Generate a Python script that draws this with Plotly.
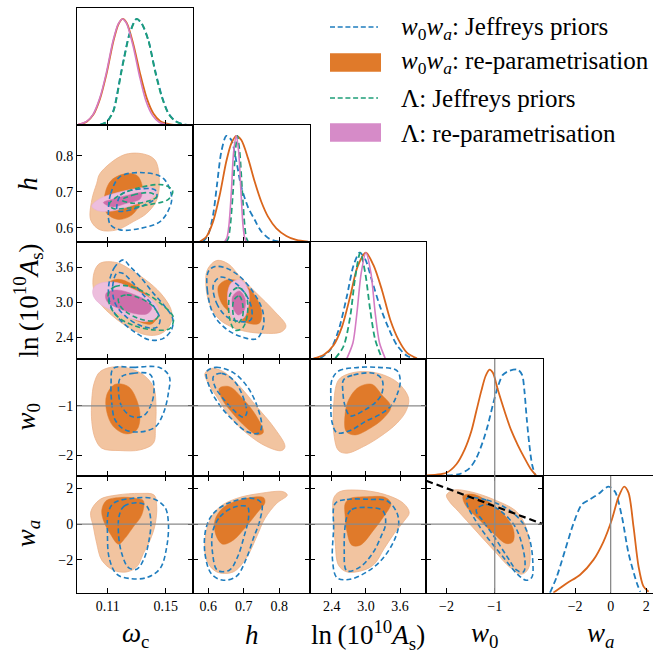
import plotly.graph_objects as go

W, H = 653, 653

# ---------------- data ----------------
TICKS_OMC = [0.11, 0.15]
TICKTEXT_OMC = ["0.11", "0.15"]
TICKS_H = [0.6, 0.7, 0.8]
TICKTEXT_H = ["0.6", "0.7", "0.8"]
TICKS_LNAS = [2.4, 3.0, 3.6]
TICKTEXT_LNAS = ["2.4", "3.0", "3.6"]
TICKS_W0 = [-2, -1]
TICKTEXT_W0 = ["\u22122", "\u22121"]
TICKS_WA = [-2, 0, 2]
TICKTEXT_WA = ["\u22122", "0", "2"]

W0_FID = -1.0
WA_FID = 0.0
BOUND_W0 = [-2.42, 0.0]
BOUND_WA = [2.42, 0.0]

# 1D marginals (x, normalised density)
OMC_1D_OR = [(0.0898, 0.006), (0.0955, 0.033), (0.1001, 0.10), (0.1047, 0.25), (0.1093, 0.49), (0.1139, 0.79),
             (0.1174, 0.95), (0.1203, 1.0), (0.1231, 0.962), (0.1277, 0.76), (0.1323, 0.487), (0.1369, 0.255),
             (0.1415, 0.11), (0.1461, 0.04), (0.1530, 0.008), (0.1599, 0.0)]
OMC_1D_PK = [(0.0895, 0.006), (0.0952, 0.033), (0.0998, 0.10), (0.1044, 0.25), (0.1090, 0.49), (0.1136, 0.79),
             (0.1172, 0.95), (0.1201, 1.0), (0.1229, 0.96), (0.1275, 0.745), (0.1318, 0.47), (0.1362, 0.235),
             (0.1410, 0.09), (0.1455, 0.028), (0.1520, 0.004), (0.1580, 0.0)]
OMC_1D_GR = [(0.1047, 0.003), (0.1093, 0.03), (0.1139, 0.13), (0.1162, 0.26), (0.1190, 0.47), (0.1215, 0.64),
             (0.1254, 0.87), (0.1300, 1.0), (0.1334, 0.96), (0.1380, 0.80), (0.1426, 0.51), (0.1472, 0.27),
             (0.1518, 0.11), (0.1564, 0.04), (0.1622, 0.008), (0.1679, 0.0)]
OMC_1D_BL = [(0.1045, 0.003), (0.1091, 0.03), (0.1137, 0.13), (0.1160, 0.26), (0.1188, 0.47), (0.1213, 0.64),
             (0.1252, 0.87), (0.1298, 1.0), (0.1332, 0.96), (0.1380, 0.80), (0.1428, 0.51), (0.1474, 0.27),
             (0.1520, 0.11), (0.1566, 0.04), (0.1625, 0.008), (0.1682, 0.0)]

H_1D_OR = [(0.5757, 0.004), (0.5945, 0.05), (0.6132, 0.19), (0.6320, 0.44), (0.6508, 0.76), (0.6649, 0.93),
           (0.6790, 1.0), (0.6930, 0.96), (0.7118, 0.79), (0.7306, 0.57), (0.7494, 0.38), (0.7682, 0.24),
           (0.7917, 0.13), (0.8198, 0.058), (0.8480, 0.02), (0.8807, 0.004)]
H_1D_BL = [(0.5850, 0.004), (0.5991, 0.067), (0.6132, 0.25), (0.6245, 0.54), (0.6367, 0.85), (0.6508, 1.0),
           (0.6649, 0.96), (0.6790, 0.76), (0.6930, 0.52), (0.7118, 0.33), (0.7306, 0.21), (0.7494, 0.10),
           (0.7729, 0.03), (0.8011, 0.004)]
H_1D_PK = [(0.6460, 0.004), (0.6525, 0.04), (0.6582, 0.16), (0.6649, 0.47), (0.6714, 0.85), (0.6790, 1.0),
           (0.6855, 0.85), (0.6921, 0.47), (0.6977, 0.16), (0.7025, 0.04), (0.7071, 0.004)]
H_1D_GR = [(0.6508, 0.004), (0.6565, 0.04), (0.6620, 0.16), (0.6695, 0.47), (0.6761, 0.85), (0.6817, 1.0),
           (0.6883, 0.85), (0.6958, 0.47), (0.7024, 0.16), (0.7070, 0.04), (0.7118, 0.004)]

LNAS_1D_OR = [(2.082, 0.006), (2.257, 0.038), (2.433, 0.13), (2.579, 0.30), (2.725, 0.59), (2.854, 0.87),
              (3.000, 1.0), (3.135, 0.88), (3.281, 0.65), (3.427, 0.37), (3.573, 0.18), (3.719, 0.06), (3.895, 0.006)]
LNAS_1D_BL = [(2.199, 0.006), (2.374, 0.085), (2.520, 0.27), (2.666, 0.59), (2.783, 0.88), (2.889, 1.0),
              (2.988, 0.94), (3.105, 0.74), (3.251, 0.49), (3.398, 0.29), (3.544, 0.13), (3.719, 0.03), (3.865, 0.003)]
LNAS_1D_PK = [(2.667, 0.006), (2.772, 0.15), (2.842, 0.43), (2.918, 0.81), (3.000, 1.0), (3.088, 0.81),
              (3.164, 0.43), (3.240, 0.15), (3.339, 0.006)]
LNAS_1D_GR = [(2.462, 0.006), (2.608, 0.12), (2.725, 0.40), (2.813, 0.77), (2.901, 1.0), (2.988, 0.81),
              (3.076, 0.46), (3.164, 0.18), (3.281, 0.006)]

W0_1D_OR = [(-2.41, 0.005), (-2.206, 0.012), (-2.0, 0.03), (-1.794, 0.11), (-1.622, 0.25), (-1.485, 0.42),
            (-1.381, 0.61), (-1.278, 0.80), (-1.189, 0.94), (-1.107, 1.0), (-1.038, 0.97), (-0.935, 0.81),
            (-0.797, 0.61), (-0.660, 0.43), (-0.522, 0.29), (-0.385, 0.17), (-0.247, 0.06), (-0.144, 0.005)]
W0_1D_BL = [(-2.0, 0.005), (-1.725, 0.018), (-1.519, 0.074), (-1.381, 0.168), (-1.244, 0.325), (-1.141, 0.48),
            (-1.038, 0.67), (-0.935, 0.84), (-0.832, 0.95), (-0.694, 0.99), (-0.522, 1.0), (-0.433, 0.95),
            (-0.385, 0.80), (-0.337, 0.54), (-0.282, 0.29), (-0.227, 0.11), (-0.165, 0.01)]

WA_1D_BL = [(-3.42, 0.0), (-3.04, 0.15), (-2.57, 0.40), (-2.10, 0.65), (-1.63, 0.83), (-1.16, 0.88),
            (-0.69, 0.93), (-0.12, 1.0), (0.25, 0.95), (0.63, 0.72), (1.01, 0.37), (1.48, 0.09), (1.67, 0.01)]
WA_1D_OR = [(-3.23, 0.0), (-2.47, 0.09), (-1.72, 0.17), (-0.97, 0.31), (-0.41, 0.48), (0.07, 0.69),
            (0.44, 0.90), (0.76, 1.0), (1.01, 0.94), (1.29, 0.62), (1.57, 0.25), (1.85, 0.06), (2.14, 0.01)]

# 2D contours: (x, y) vertices of the 68% (IN) and 95% (OUT) regions
H_OMC_OR_OUT = [(0.1047, 0.751), (0.1208, 0.802), (0.1346, 0.805), (0.1426, 0.788), (0.1456, 0.732), (0.1438, 0.677),
                (0.1369, 0.640), (0.1277, 0.617), (0.1162, 0.594), (0.1047, 0.594), (0.0983, 0.621), (0.0990, 0.677),
                (0.1024, 0.723)]
H_OMC_OR_IN = [(0.1075, 0.677), (0.1116, 0.728), (0.1208, 0.749), (0.1300, 0.746), (0.1339, 0.714), (0.1323, 0.668),
               (0.1266, 0.635), (0.1174, 0.623), (0.1093, 0.640)]
H_OMC_PK_OUT = [(0.0990, 0.660), (0.1047, 0.681), (0.1162, 0.697), (0.1300, 0.709), (0.1403, 0.712), (0.1438, 0.703),
                (0.1403, 0.681), (0.1277, 0.663), (0.1139, 0.647), (0.1036, 0.647)]
H_OMC_PK_IN = [(0.1070, 0.670), (0.1151, 0.681), (0.1266, 0.693), (0.1334, 0.697), (0.1323, 0.680), (0.1231, 0.668),
               (0.1128, 0.658)]
H_OMC_BL_OUT = [(0.1105, 0.649), (0.1121, 0.695), (0.1185, 0.742), (0.1346, 0.753), (0.1484, 0.737), (0.1541, 0.686),
                (0.1525, 0.654), (0.1461, 0.617), (0.1323, 0.598), (0.1185, 0.594), (0.1116, 0.610)]
H_OMC_BL_IN = [(0.1162, 0.658), (0.1190, 0.691), (0.1277, 0.705), (0.1426, 0.705), (0.1438, 0.686), (0.1369, 0.666),
               (0.1231, 0.647), (0.1167, 0.647)]
H_OMC_GR_OUT = [(0.1111, 0.666), (0.1185, 0.691), (0.1323, 0.712), (0.1484, 0.719), (0.1548, 0.703), (0.1518, 0.679),
                (0.1369, 0.663), (0.1231, 0.654), (0.1134, 0.654)]
H_OMC_GR_IN = [(0.1197, 0.677), (0.1277, 0.691), (0.1392, 0.697), (0.1438, 0.686), (0.1380, 0.674), (0.1277, 0.668)]

LNAS_OMC_OR_OUT = [(0.1008, 3.531), (0.1047, 3.675), (0.1162, 3.686), (0.1277, 3.531), (0.1392, 3.329), (0.1484, 3.098),
                   (0.1541, 2.839), (0.1530, 2.608), (0.1461, 2.452), (0.1369, 2.435), (0.1254, 2.550), (0.1139, 2.752),
                   (0.1047, 2.983), (0.1001, 3.242)]
LNAS_OMC_OR_IN = [(0.1105, 3.329), (0.1174, 3.398), (0.1277, 3.300), (0.1392, 3.069), (0.1443, 2.781), (0.1403, 2.625),
                  (0.1300, 2.683), (0.1185, 2.839), (0.1105, 3.040)]
LNAS_OMC_PK_OUT = [(0.1001, 3.242), (0.1047, 3.329), (0.1162, 3.340), (0.1277, 3.225), (0.1392, 3.069), (0.1449, 2.896),
                   (0.1438, 2.740), (0.1369, 2.666), (0.1277, 2.706), (0.1162, 2.821), (0.1047, 2.971), (0.1001, 3.110)]
LNAS_OMC_PK_IN = [(0.1089, 3.156), (0.1162, 3.213), (0.1277, 3.138), (0.1369, 3.023), (0.1403, 2.896), (0.1369, 2.798),
                  (0.1277, 2.810), (0.1162, 2.908), (0.1093, 3.023)]
LNAS_OMC_BL_OUT = [(0.1208, 3.732), (0.1151, 3.617), (0.1116, 3.415), (0.1105, 3.156), (0.1128, 2.896), (0.1197, 2.666),
                   (0.1300, 2.464), (0.1392, 2.348), (0.1484, 2.377), (0.1541, 2.533), (0.1548, 2.723), (0.1495, 2.925),
                   (0.1415, 3.156), (0.1323, 3.444), (0.1254, 3.617)]
LNAS_OMC_BL_IN = [(0.1162, 3.502), (0.1134, 3.271), (0.1151, 2.983), (0.1231, 2.740), (0.1346, 2.579), (0.1438, 2.567),
                  (0.1461, 2.694), (0.1426, 2.896), (0.1346, 3.127), (0.1266, 3.358), (0.1203, 3.502)]
LNAS_OMC_GR_OUT = [(0.1105, 3.156), (0.1151, 3.271), (0.1243, 3.283), (0.1357, 3.167), (0.1484, 2.937), (0.1553, 2.740),
                   (0.1530, 2.550), (0.1426, 2.521), (0.1289, 2.591), (0.1174, 2.740), (0.1116, 2.937)]
LNAS_OMC_GR_IN = [(0.1174, 3.069), (0.1231, 3.127), (0.1323, 3.069), (0.1415, 2.925), (0.1449, 2.764), (0.1415, 2.683),
                  (0.1323, 2.712), (0.1231, 2.827), (0.1185, 2.942)]

LNAS_H_OR_OUT = [(0.5934, 3.271), (0.5972, 3.559), (0.6235, 3.721), (0.6563, 3.663), (0.6892, 3.444), (0.7362, 3.156),
                 (0.7831, 2.867), (0.8188, 2.591), (0.8066, 2.492), (0.7549, 2.464), (0.6892, 2.521), (0.6329, 2.694),
                 (0.6047, 2.954)]
LNAS_H_OR_IN = [(0.6282, 3.271), (0.6516, 3.386), (0.6892, 3.358), (0.7268, 3.156), (0.7502, 2.839), (0.7437, 2.637),
                (0.7127, 2.637), (0.6704, 2.781), (0.6376, 2.983)]
LNAS_H_PK_OUT = [(0.6545, 3.156), (0.6657, 3.340), (0.6911, 3.386), (0.7127, 3.213), (0.7127, 2.925), (0.6986, 2.723),
                 (0.6751, 2.683), (0.6592, 2.856)]
LNAS_H_PK_IN = [(0.6685, 3.098), (0.6873, 3.196), (0.7033, 3.069), (0.7014, 2.867), (0.6845, 2.781), (0.6704, 2.896)]
LNAS_H_BL_OUT = [(0.6000, 3.531), (0.5972, 3.213), (0.6141, 2.798), (0.6516, 2.533), (0.6986, 2.394), (0.7362, 2.371),
                 (0.7549, 2.579), (0.7531, 2.856), (0.7286, 3.156), (0.6911, 3.433), (0.6516, 3.588), (0.6188, 3.617)]
LNAS_H_BL_IN = [(0.6141, 3.300), (0.6235, 2.983), (0.6516, 2.752), (0.6892, 2.666), (0.7192, 2.694), (0.7221, 2.896),
                (0.7033, 3.156), (0.6704, 3.358), (0.6329, 3.433)]
LNAS_H_GR_OUT = [(0.6629, 3.156), (0.6845, 3.254), (0.7061, 3.127), (0.7099, 2.781), (0.6958, 2.550), (0.6751, 2.521),
                 (0.6610, 2.694), (0.6573, 2.954)]
LNAS_H_GR_IN = [(0.6723, 3.040), (0.6873, 3.110), (0.6967, 2.971), (0.6958, 2.740), (0.6817, 2.637), (0.6704, 2.781)]

W0_OMC_OR_OUT = [(0.1047, -0.309), (0.1162, -0.209), (0.1323, -0.329), (0.1415, -0.611), (0.1433, -1.013),
                 (0.1429, -1.416), (0.1415, -1.751), (0.1323, -1.885), (0.1185, -1.899), (0.1059, -1.852),
                 (0.1013, -1.651), (0.0990, -1.315), (0.0990, -0.879), (0.1006, -0.544)]
W0_OMC_OR_IN = [(0.1093, -0.779), (0.1151, -0.564), (0.1243, -0.611), (0.1300, -0.879), (0.1323, -1.215),
                (0.1300, -1.483), (0.1226, -1.563), (0.1139, -1.416), (0.1093, -1.114)]
W0_OMC_BL_OUT = [(0.1139, -0.242), (0.1277, -0.222), (0.1461, -0.229), (0.1525, -0.410), (0.1518, -0.745),
                 (0.1484, -1.148), (0.1426, -1.429), (0.1323, -1.523), (0.1220, -1.483), (0.1151, -1.282),
                 (0.1128, -0.946), (0.1123, -0.544)]
W0_OMC_BL_IN = [(0.1190, -0.423), (0.1277, -0.343), (0.1392, -0.363), (0.1419, -0.611), (0.1403, -0.946),
                (0.1346, -1.201), (0.1266, -1.215), (0.1197, -1.013), (0.1174, -0.691)]

W0_H_OR_OUT = [(0.5906, -0.343), (0.6094, -0.242), (0.6423, -0.309), (0.6892, -0.611), (0.7362, -1.013),
               (0.7831, -1.416), (0.8160, -1.818), (0.8066, -1.899), (0.7643, -1.818), (0.7080, -1.550),
               (0.6610, -1.215), (0.6235, -0.812), (0.5972, -0.510)]
W0_H_OR_IN = [(0.6310, -0.645), (0.6592, -0.611), (0.6986, -0.866), (0.7362, -1.215), (0.7549, -1.537),
              (0.7380, -1.584), (0.7061, -1.429), (0.6685, -1.148), (0.6376, -0.846)]
W0_H_BL_OUT = [(0.5953, -0.309), (0.6216, -0.222), (0.6704, -0.329), (0.7099, -0.611), (0.7380, -1.013),
               (0.7502, -1.416), (0.7408, -1.550), (0.7080, -1.516), (0.6685, -1.282), (0.6282, -0.946),
               (0.6028, -0.611)]
W0_H_BL_IN = [(0.6141, -0.410), (0.6376, -0.343), (0.6704, -0.477), (0.6939, -0.745), (0.7080, -1.148),
              (0.6986, -1.228), (0.6704, -1.080), (0.6376, -0.812), (0.6188, -0.611)]

W0_LNAS_OR_OUT = [(2.520, -0.477), (2.725, -0.343), (3.018, -0.309), (3.310, -0.376), (3.573, -0.544), (3.749, -0.846),
                  (3.708, -1.094), (3.544, -1.349), (3.251, -1.617), (2.959, -1.818), (2.667, -1.952), (2.520, -1.899),
                  (2.444, -1.617), (2.433, -1.013)]
W0_LNAS_OR_IN = [(2.696, -0.879), (2.871, -0.624), (3.105, -0.564), (3.281, -0.779), (3.439, -1.013), (3.310, -1.248),
                 (3.076, -1.449), (2.813, -1.584), (2.655, -1.516), (2.637, -1.148)]
W0_LNAS_BL_OUT = [(2.404, -0.477), (2.520, -0.296), (2.813, -0.229), (3.193, -0.222), (3.544, -0.289), (3.602, -0.510),
                  (3.544, -0.779), (3.456, -0.980), (3.281, -1.148), (2.988, -1.315), (2.725, -1.496), (2.491, -1.537),
                  (2.404, -1.315), (2.386, -0.879)]
W0_LNAS_BL_IN = [(2.608, -0.477), (2.784, -0.376), (3.135, -0.343), (3.281, -0.463), (3.281, -0.745), (3.164, -0.933),
                 (2.959, -1.094), (2.725, -1.201), (2.637, -1.013), (2.596, -0.711)]

WA_OMC_OR_OUT = [(0.0983, 0.689), (0.1047, 1.378), (0.1162, 1.620), (0.1323, 1.713), (0.1420, 1.620), (0.1438, 0.968),
                 (0.1426, -0.056), (0.1392, -0.894), (0.1346, -1.639), (0.1300, -2.384), (0.1231, -2.663),
                 (0.1139, -2.570), (0.1059, -2.011), (0.1024, -1.080), (0.1001, -0.149)]
WA_OMC_OR_IN = [(0.1059, 0.782), (0.1089, 1.304), (0.1185, 1.490), (0.1300, 1.434), (0.1346, 1.304), (0.1334, 0.503),
                (0.1277, -0.149), (0.1208, -0.894), (0.1174, -1.117), (0.1116, -0.521), (0.1070, 0.223)]
WA_OMC_BL_OUT = [(0.1105, 0.689), (0.1144, 1.192), (0.1266, 1.434), (0.1415, 1.415), (0.1495, 0.931), (0.1518, 0.130),
                 (0.1507, -1.266), (0.1461, -2.477), (0.1369, -2.980), (0.1254, -3.035), (0.1162, -2.793),
                 (0.1111, -1.918), (0.1098, -0.521)]
WA_OMC_BL_IN = [(0.1180, 0.503), (0.1213, 1.006), (0.1300, 1.192), (0.1369, 1.006), (0.1397, 0.223), (0.1385, -0.894),
                (0.1351, -1.918), (0.1300, -2.514), (0.1243, -2.421), (0.1197, -1.639), (0.1174, -0.521)]

WA_H_OR_OUT = [(0.5906, -0.894), (0.6047, 0.223), (0.6329, 0.968), (0.6798, 1.434), (0.7455, 1.713), (0.8113, 1.806),
               (0.8225, 1.620), (0.7925, 1.155), (0.7596, 0.317), (0.7362, -0.708), (0.7080, -1.862), (0.6704, -2.663),
               (0.6235, -2.663), (0.5953, -2.011)]
WA_H_OR_IN = [(0.6188, 0.223), (0.6423, 0.931), (0.6892, 1.341), (0.7549, 1.490), (0.7596, 1.210), (0.7362, 0.596),
              (0.7061, -0.149), (0.6704, -0.894), (0.6404, -1.117), (0.6216, -0.615)]
WA_H_BL_OUT = [(0.5934, -0.242), (0.6141, 0.596), (0.6610, 1.210), (0.7268, 1.434), (0.7502, 1.155), (0.7455, 0.223),
               (0.7268, -0.801), (0.7061, -1.974), (0.6798, -2.905), (0.6423, -3.128), (0.6094, -2.793),
               (0.5906, -1.639)]
WA_H_BL_IN = [(0.6122, -0.428), (0.6329, 0.410), (0.6704, 0.931), (0.7099, 0.968), (0.7136, 0.410), (0.7005, -0.708),
              (0.6817, -1.862), (0.6592, -2.570), (0.6254, -2.570), (0.6122, -1.639)]

WA_LNAS_OR_OUT = [(2.433, 1.434), (2.538, 1.806), (2.842, 1.899), (3.310, 1.676), (3.661, 1.155), (3.760, 0.633),
                  (3.673, 0.186), (3.497, -0.521), (3.322, -1.359), (3.146, -2.235), (2.959, -2.570), (2.667, -2.663),
                  (2.520, -2.291), (2.462, -1.080), (2.433, 0.223)]
WA_LNAS_OR_IN = [(2.637, 1.155), (2.725, 1.434), (3.018, 1.527), (3.339, 1.490), (3.439, 1.155), (3.310, 0.410),
                 (3.135, -0.335), (2.901, -1.173), (2.754, -1.173), (2.667, -0.428), (2.637, 0.410)]
WA_LNAS_BL_OUT = [(2.462, 1.155), (2.667, 1.378), (3.076, 1.378), (3.368, 1.304), (3.544, 0.633), (3.573, -0.112),
                  (3.485, -0.987), (3.281, -1.974), (3.018, -2.663), (2.696, -3.091), (2.491, -2.980), (2.415, -2.011),
                  (2.433, -0.335)]
WA_LNAS_BL_IN = [(2.667, 0.410), (2.754, 0.819), (3.018, 0.931), (3.298, 0.745), (3.345, 0.000), (3.263, -0.708),
                 (3.123, -1.601), (2.901, -2.384), (2.667, -2.607), (2.620, -1.453)]

WA_W0_OR_OUT = [(-2.000, 1.620), (-1.849, 1.899), (-1.505, 1.806), (-1.024, 1.378), (-0.543, 0.689), (-0.351, -0.186),
                (-0.268, -1.453), (-0.302, -2.477), (-0.440, -2.793), (-0.680, -2.421), (-0.990, -1.546),
                (-1.402, -0.335), (-1.746, 0.689), (-1.952, 1.304)]
WA_W0_OR_IN = [(-1.656, 1.564), (-1.471, 1.676), (-1.162, 1.304), (-0.818, 0.559), (-0.612, -0.298), (-0.625, -0.987),
               (-0.763, -1.080), (-1.024, -0.521), (-1.368, 0.372), (-1.608, 1.061)]
WA_W0_BL_OUT = [(-1.574, 1.434), (-1.162, 1.341), (-0.749, 0.875), (-0.440, 0.130), (-0.282, -0.801), (-0.213, -2.011),
                (-0.234, -2.980), (-0.351, -3.128), (-0.543, -2.756), (-0.818, -1.862), (-1.162, -0.708),
                (-1.436, 0.372), (-1.560, 1.006)]
WA_W0_BL_IN = [(-1.368, 0.875), (-1.162, 1.099), (-0.887, 0.745), (-0.612, 0.000), (-0.460, -0.894), (-0.371, -2.197),
               (-0.405, -2.663), (-0.543, -2.570), (-0.749, -1.788), (-1.010, -0.708), (-1.258, 0.223), (-1.381, 0.689)]

LEGEND_LABELS = [
    "<i>w</i><sub>0</sub><i>w</i><sub><i>a</i></sub>: Jeffreys priors",
    "<i>w</i><sub>0</sub><i>w</i><sub><i>a</i></sub>: re-parametrisation",
    "\u039b: Jeffreys priors",
    "\u039b: re-parametrisation",
]
AXIS_LABELS = ["<i>\u03c9</i><sub>c</sub>", "<i>h</i>",
               "ln\u2009(10<sup>10</sup><i>A</i><sub>s</sub>)",
               "<i>w</i><sub>0</sub>", "<i>w</i><sub><i>a</i></sub>"]

# ---------------- styles / geometry ----------------
C_BLUE = "#1F7DBE"
C_GREEN = "#1E9F78"
C_OR_LINE = "#DA661C"
C_PK_LINE = "#D47BC3"
C_OR_OUT = "#F2C4A0"
C_OR_OUT_EDGE = "#ECB28A"
C_OR_IN = "#E07A2A"
C_PK_OUT = "#EDBEDD"
C_PK_IN = "#CE6EAA"
C_PK_LEG = "#D68BC8"
FONT = "Liberation Serif"

COL_EDGES = [77.0, 193.4, 309.8, 426.2, 542.6, 659.0]
ROW_EDGES = [8.3, 125.2, 242.1, 359.0, 475.9, 592.8]

XRANGES = [[0.0888, 0.1691], [0.558, 0.886], [2.016, 4.058], [-2.42, -0.008], [-3.836, 2.387]]
YRANGES = [None, [0.56, 0.885], [2.02, 4.04], [-2.41, -0.054], [-3.83, 2.69]]
TICKVALS = [TICKS_OMC, TICKS_H, TICKS_LNAS, TICKS_W0, TICKS_WA]
TICKTEXTS = [TICKTEXT_OMC, TICKTEXT_H, TICKTEXT_LNAS, TICKTEXT_W0, TICKTEXT_WA]

STYLE = {
    "or_out": dict(fill=C_OR_OUT, line=C_OR_OUT_EDGE, width=0.8, dash=None),
    "or_in": dict(fill=C_OR_IN, line=C_OR_IN, width=0.5, dash=None),
    "pk_out": dict(fill=C_PK_OUT, line="#E6AED6", width=0.6, dash=None),
    "pk_in": dict(fill=C_PK_IN, line=C_PK_IN, width=0.5, dash=None),
    "bl": dict(fill=None, line=C_BLUE, width=1.6, dash="5px,3px"),
    "gr": dict(fill=None, line=C_GREEN, width=1.6, dash="5px,3px"),
}

PANELS_2D = {
    (1, 0): [("or_out", H_OMC_OR_OUT), ("or_in", H_OMC_OR_IN), ("pk_out", H_OMC_PK_OUT), ("pk_in", H_OMC_PK_IN),
             ("bl", H_OMC_BL_OUT), ("bl", H_OMC_BL_IN), ("gr", H_OMC_GR_OUT), ("gr", H_OMC_GR_IN)],
    (2, 0): [("or_out", LNAS_OMC_OR_OUT), ("or_in", LNAS_OMC_OR_IN), ("pk_out", LNAS_OMC_PK_OUT),
             ("pk_in", LNAS_OMC_PK_IN), ("bl", LNAS_OMC_BL_OUT), ("bl", LNAS_OMC_BL_IN),
             ("gr", LNAS_OMC_GR_OUT), ("gr", LNAS_OMC_GR_IN)],
    (2, 1): [("or_out", LNAS_H_OR_OUT), ("or_in", LNAS_H_OR_IN), ("pk_out", LNAS_H_PK_OUT), ("pk_in", LNAS_H_PK_IN),
             ("bl", LNAS_H_BL_OUT), ("bl", LNAS_H_BL_IN), ("gr", LNAS_H_GR_OUT), ("gr", LNAS_H_GR_IN)],
    (3, 0): [("or_out", W0_OMC_OR_OUT), ("or_in", W0_OMC_OR_IN), ("bl", W0_OMC_BL_OUT), ("bl", W0_OMC_BL_IN)],
    (3, 1): [("or_out", W0_H_OR_OUT), ("or_in", W0_H_OR_IN), ("bl", W0_H_BL_OUT), ("bl", W0_H_BL_IN)],
    (3, 2): [("or_out", W0_LNAS_OR_OUT), ("or_in", W0_LNAS_OR_IN), ("bl", W0_LNAS_BL_OUT), ("bl", W0_LNAS_BL_IN)],
    (4, 0): [("or_out", WA_OMC_OR_OUT), ("or_in", WA_OMC_OR_IN), ("bl", WA_OMC_BL_OUT), ("bl", WA_OMC_BL_IN)],
    (4, 1): [("or_out", WA_H_OR_OUT), ("or_in", WA_H_OR_IN), ("bl", WA_H_BL_OUT), ("bl", WA_H_BL_IN)],
    (4, 2): [("or_out", WA_LNAS_OR_OUT), ("or_in", WA_LNAS_OR_IN), ("bl", WA_LNAS_BL_OUT), ("bl", WA_LNAS_BL_IN)],
    (4, 3): [("or_out", WA_W0_OR_OUT), ("or_in", WA_W0_OR_IN), ("bl", WA_W0_BL_OUT), ("bl", WA_W0_BL_IN)],
}

DIAG_1D = {
    0: [("bl", OMC_1D_BL), ("or", OMC_1D_OR), ("gr", OMC_1D_GR), ("pk", OMC_1D_PK)],
    1: [("bl", H_1D_BL), ("or", H_1D_OR), ("gr", H_1D_GR), ("pk", H_1D_PK)],
    2: [("bl", LNAS_1D_BL), ("or", LNAS_1D_OR), ("gr", LNAS_1D_GR), ("pk", LNAS_1D_PK)],
    3: [("bl", W0_1D_BL), ("or", W0_1D_OR)],
    4: [("bl", WA_1D_BL), ("or", WA_1D_OR)],
}
STYLE_1D = {
    "bl": dict(color=C_BLUE, width=1.8, dash="6px,3.5px"),
    "gr": dict(color=C_GREEN, width=1.8, dash="6px,3.5px"),
    "or": dict(color=C_OR_LINE, width=1.8, dash="solid"),
    "pk": dict(color=C_PK_LINE, width=1.6, dash="solid"),
}

fig = go.Figure()
layout_axes = {}
shapes = []
annotations = []

panel_id = {}
n = 0
for i in range(5):
    for j in range(i + 1):
        n += 1
        panel_id[(i, j)] = n


def ax_names(num):
    s = "" if num == 1 else str(num)
    return "x" + s, "y" + s, "xaxis" + s, "yaxis" + s


for (i, j), num in panel_id.items():
    xa, ya, xkey, ykey = ax_names(num)
    diag = (i == j)
    xdom = [COL_EDGES[j] / W, min(COL_EDGES[j + 1] / W, 1.0)]
    ydom = [1 - ROW_EDGES[i + 1] / H, 1 - ROW_EDGES[i] / H]
    layout_axes[xkey] = dict(
        domain=xdom, range=XRANGES[j], anchor=ya, tickvals=TICKVALS[j], ticktext=TICKTEXTS[j],
        showticklabels=(i == 4), ticks="inside", ticklen=5, tickwidth=1, tickcolor="black",
        showline=True, linecolor="black", linewidth=1, mirror=(True if diag else "ticks"),
        showgrid=False, zeroline=False, tickfont=dict(family=FONT, size=14, color="black"),
        fixedrange=True)
    if diag:
        layout_axes[ykey] = dict(
            domain=ydom, range=[0, 1.1], anchor=xa, showticklabels=False, ticks="",
            showline=True, linecolor="black", linewidth=1, mirror=(j != 4),
            showgrid=False, zeroline=False, fixedrange=True)
    else:
        layout_axes[ykey] = dict(
            domain=ydom, range=YRANGES[i], anchor=xa, tickvals=TICKVALS[i], ticktext=TICKTEXTS[i],
            showticklabels=(j == 0), ticks="inside", ticklen=5, tickwidth=1, tickcolor="black",
            showline=True, linecolor="black", linewidth=1, mirror="ticks",
            showgrid=False, zeroline=False, tickfont=dict(family=FONT, size=14, color="black"),
            fixedrange=True)

# 2D contours
for (i, j), items in PANELS_2D.items():
    xa, ya, _, _ = ax_names(panel_id[(i, j)])
    for key, pts in items:
        st = STYLE[key]
        xs = [p[0] for p in pts] + [pts[0][0]]
        ys = [p[1] for p in pts] + [pts[0][1]]
        fig.add_trace(go.Scatter(
            x=xs, y=ys, xaxis=xa, yaxis=ya, mode="lines",
            line=dict(color=st["line"], width=st["width"], shape="spline", smoothing=1.0,
                      dash=st["dash"] if st["dash"] else "solid"),
            fill="toself" if st["fill"] else "none", fillcolor=st["fill"],
            hoverinfo="skip", showlegend=False))

# 1D marginals
for k, items in DIAG_1D.items():
    xa, ya, _, _ = ax_names(panel_id[(k, k)])
    for key, pts in items:
        st = STYLE_1D[key]
        fig.add_trace(go.Scatter(
            x=[p[0] for p in pts], y=[p[1] for p in pts], xaxis=xa, yaxis=ya, mode="lines",
            line=dict(color=st["color"], width=st["width"], dash=st["dash"], shape="spline", smoothing=0.8),
            hoverinfo="skip", showlegend=False))

# w0 + wa = 0 boundary
xa, ya, _, _ = ax_names(panel_id[(4, 3)])
fig.add_trace(go.Scatter(x=BOUND_W0, y=BOUND_WA, xaxis=xa, yaxis=ya, mode="lines",
                         line=dict(color="black", width=2.2, dash="7px,4px"),
                         hoverinfo="skip", showlegend=False))

# fiducial marker lines
GREY = "#8a8a8a"
for (i, j), num in panel_id.items():
    xa, ya, _, _ = ax_names(num)
    if i == 3 and j < 3:
        shapes.append(dict(type="line", xref=xa + " domain", yref=ya, x0=0, x1=1, y0=W0_FID, y1=W0_FID,
                           line=dict(color=GREY, width=1.3), layer="above"))
    if i == 4 and j < 4:
        shapes.append(dict(type="line", xref=xa + " domain", yref=ya, x0=0, x1=1, y0=WA_FID, y1=WA_FID,
                           line=dict(color=GREY, width=1.3), layer="above"))
    if j == 3:
        shapes.append(dict(type="line", xref=xa, yref=ya + " domain", x0=W0_FID, x1=W0_FID, y0=0, y1=1,
                           line=dict(color=GREY, width=1.3), layer="above"))
    if j == 4:
        shapes.append(dict(type="line", xref=xa, yref=ya + " domain", x0=WA_FID, x1=WA_FID, y0=0, y1=1,
                           line=dict(color=GREY, width=1.3), layer="above"))


def px(x):
    return x / W


def py(y):
    return 1 - y / H


# axis titles
BOTTOM_Y = 635
for j in range(5):
    cx = (COL_EDGES[j] + COL_EDGES[j + 1]) / 2
    if j == 4:
        cx = 600
    annotations.append(dict(text=AXIS_LABELS[j], x=px(cx), y=py(BOTTOM_Y), xref="paper", yref="paper",
                            xanchor="center", yanchor="middle", showarrow=False,
                            font=dict(family=FONT, size=27, color="black")))
for i in range(1, 5):
    cy = (ROW_EDGES[i] + ROW_EDGES[i + 1]) / 2
    annotations.append(dict(text=AXIS_LABELS[i], x=px(28), y=py(cy), xref="paper", yref="paper",
                            xanchor="center", yanchor="middle", showarrow=False, textangle=-90,
                            font=dict(family=FONT, size=27, color="black")))

# legend
LEG_Y = [28.3, 62.3, 98.3, 133.3]
shapes.append(dict(type="line", xref="paper", yref="paper", x0=px(330), x1=px(378), y0=py(27), y1=py(27),
                   line=dict(color=C_BLUE, width=1.4, dash="5px,2.7px")))
shapes.append(dict(type="rect", xref="paper", yref="paper", x0=px(330), x1=px(381), y0=py(71.7), y1=py(53.3),
                   line=dict(width=0), fillcolor=C_OR_IN))
shapes.append(dict(type="line", xref="paper", yref="paper", x0=px(330), x1=px(378), y0=py(98), y1=py(98),
                   line=dict(color=C_GREEN, width=1.4, dash="5px,2.7px")))
shapes.append(dict(type="rect", xref="paper", yref="paper", x0=px(330), x1=px(381), y0=py(141.7), y1=py(123.3),
                   line=dict(width=0), fillcolor=C_PK_LEG))
for lbl, yy in zip(LEGEND_LABELS, LEG_Y):
    annotations.append(dict(text=lbl, x=px(399), y=py(yy), xref="paper", yref="paper",
                            xanchor="left", yanchor="middle", showarrow=False,
                            font=dict(family=FONT, size=25, color="black")))

fig.update_layout(
    width=W, height=H, margin=dict(l=0, r=0, t=0, b=0),
    paper_bgcolor="white", plot_bgcolor="white", showlegend=False,
    shapes=shapes, annotations=annotations, **layout_axes)

fig.write_html("out.html", config={"displayModeBar": False, "staticPlot": True},
               post_script="document.body.style.margin='0px';")
